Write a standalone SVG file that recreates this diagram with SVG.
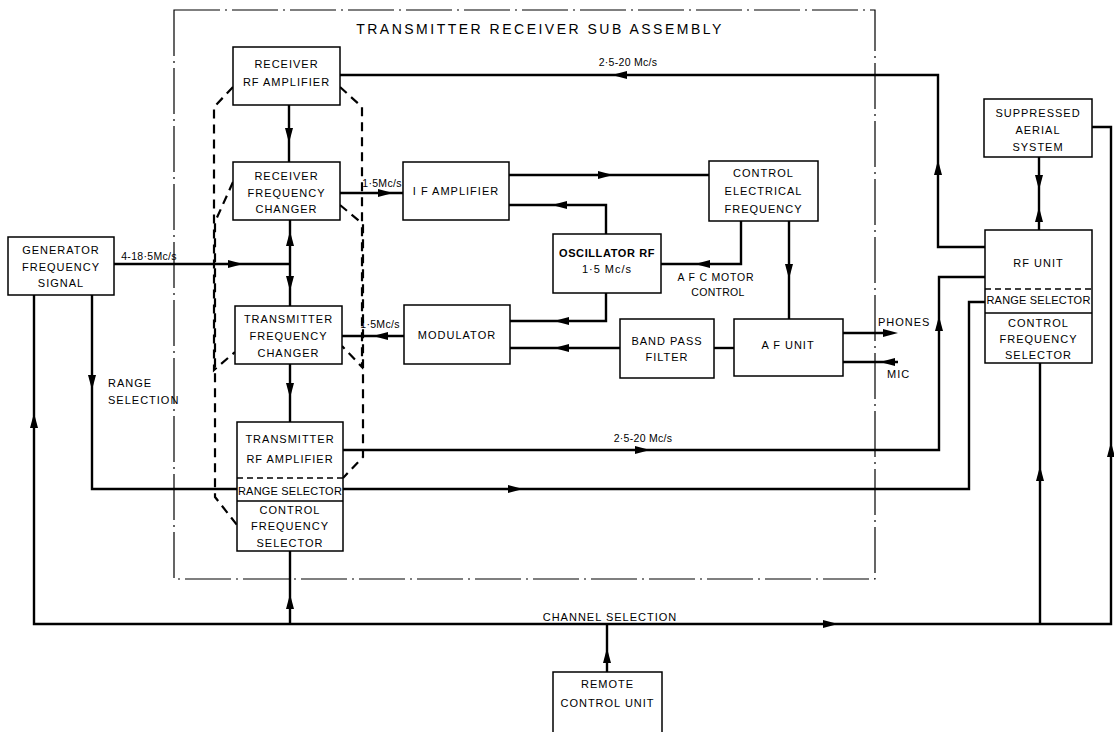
<svg xmlns="http://www.w3.org/2000/svg" xmlns:xlink="http://www.w3.org/1999/xlink" width="1114" height="732" viewBox="0 0 1114 732">
<style>
  .box { fill: #fff; stroke: #000; stroke-width: 1.5; }
  .div { stroke: #000; stroke-width: 1.5; fill: none; }
  .divd { stroke: #000; stroke-width: 1.3; fill: none; stroke-dasharray: 6 4; }
  .ln { stroke: #000; stroke-width: 2.4; fill: none; stroke-linejoin: miter; }
  .gang { stroke: #000; stroke-width: 2.2; fill: none; stroke-dasharray: 9 6; }
  .frame { stroke: #000; stroke-width: 1.2; fill: none; stroke-dasharray: 46 5 2 5; }
  text { font-family: "Liberation Sans", Arial, sans-serif; font-size: 11px; letter-spacing: 1px; fill: #000; }
  .c { text-anchor: middle; }
  .title { font-size: 14px; letter-spacing: 2.5px; }
  .sm { font-size: 10.5px; letter-spacing: 0.3px; }
  .b { font-weight: bold; letter-spacing: 0.6px; }
  .rs { letter-spacing: 0.2px; }
</style>
<defs>
  <path id="ah" d="M0 0 L-15 -4 L-15 4 Z" fill="#000"/>
</defs>
<rect width="1114" height="732" fill="#fff"/>

<g id="frame">
  <rect class="frame" x="174" y="10" width="701" height="569"/>
  <text class="title c" x="540" y="34">TRANSMITTER RECEIVER SUB ASSEMBLY</text>
</g>

<g id="ganging">
  <polyline class="gang" points="233,87 214,107 214,370 235,352"/>
  <polyline class="gang" points="340,87 362,107 362,367 342,346"/>
  <polyline class="gang" points="233,182 215,222 215,497 237,525"/>
  <polyline class="gang" points="340,205 363,224 363,457 343,478"/>
</g>

<g id="connectors">
  <polyline class="ln" points="985,247 938,247 938,75 340,75"/>
  <use href="#ah" transform="translate(938,160) rotate(-90)"/>
  <use href="#ah" transform="translate(612,75) rotate(180)"/>

  <polyline class="ln" points="342,450 939,450 939,277 985,277"/>
  <use href="#ah" transform="translate(650,450)"/>
  <use href="#ah" transform="translate(939,316) rotate(-90)"/>

  <polyline class="ln" points="92,295 92,489 237,489"/>
  <use href="#ah" transform="translate(92,390) rotate(90)"/>
  <polyline class="ln" points="343,489 969,489 969,302 985,302"/>
  <use href="#ah" transform="translate(523,489)"/>

  <polyline class="ln" points="34,295 34,624 1111,624 1111,127 1092,127"/>
  <use href="#ah" transform="translate(34,413) rotate(-90)"/>
  <use href="#ah" transform="translate(838,624)"/>
  <use href="#ah" transform="translate(1111,442) rotate(-90)"/>

  <line class="ln" x1="290" y1="551" x2="290" y2="624"/>
  <use href="#ah" transform="translate(290,594) rotate(-90)"/>
  <line class="ln" x1="607" y1="672" x2="607" y2="624"/>
  <use href="#ah" transform="translate(607,648) rotate(-90)"/>
  <line class="ln" x1="1040" y1="363" x2="1040" y2="624"/>
  <use href="#ah" transform="translate(1040,466) rotate(-90)"/>

  <line class="ln" x1="289" y1="105" x2="289" y2="162"/>
  <use href="#ah" transform="translate(289,143) rotate(90)"/>
  <line class="ln" x1="114" y1="264" x2="290" y2="264"/>
  <use href="#ah" transform="translate(243,264)"/>
  <line class="ln" x1="290" y1="220" x2="290" y2="306"/>
  <use href="#ah" transform="translate(290,231) rotate(-90)"/>
  <use href="#ah" transform="translate(290,291) rotate(90)"/>
  <line class="ln" x1="290" y1="364" x2="290" y2="422"/>
  <use href="#ah" transform="translate(290,398) rotate(90)"/>

  <line class="ln" x1="340" y1="193" x2="403" y2="193"/>
  <use href="#ah" transform="translate(393,193)"/>
  <line class="ln" x1="509" y1="175" x2="709" y2="175"/>
  <use href="#ah" transform="translate(613,175)"/>
  <polyline class="ln" points="606,234 606,205 509,205"/>
  <use href="#ah" transform="translate(552,205) rotate(180)"/>
  <polyline class="ln" points="741,221 741,264 661,264"/>
  <use href="#ah" transform="translate(695,264) rotate(180)"/>
  <line class="ln" x1="789" y1="221" x2="789" y2="319"/>
  <use href="#ah" transform="translate(789,279) rotate(90)"/>
  <polyline class="ln" points="606,293 606,321 510,321"/>
  <use href="#ah" transform="translate(554,321) rotate(180)"/>
  <line class="ln" x1="620" y1="348" x2="510" y2="348"/>
  <use href="#ah" transform="translate(554,348) rotate(180)"/>
  <line class="ln" x1="714" y1="348" x2="734" y2="348"/>
  <line class="ln" x1="843" y1="333" x2="885" y2="333"/>
  <use href="#ah" transform="translate(898,333)"/>
  <line class="ln" x1="843" y1="362" x2="898" y2="362"/>
  <use href="#ah" transform="translate(880,362) rotate(180)"/>
  <line class="ln" x1="404" y1="336" x2="342" y2="336"/>
  <use href="#ah" transform="translate(373,336) rotate(180)"/>
  <line class="ln" x1="1039" y1="157" x2="1039" y2="230"/>
  <use href="#ah" transform="translate(1039,190) rotate(90)"/>
  <use href="#ah" transform="translate(1039,207) rotate(-90)"/>

  <text class="sm c" x="628" y="66">2·5-20 Mc/s</text>
  <text class="sm c" x="643" y="442">2·5-20 Mc/s</text>
  <text class="sm c" x="382" y="187">1·5Mc/s</text>
  <text class="sm c" x="380" y="328">1·5Mc/s</text>
  <text class="sm c" x="149" y="260">4-18·5Mc/s</text>
  <text x="108" y="387">RANGE</text>
  <text x="108" y="404">SELECTION</text>
  <text class="sm c" x="716" y="281" style="letter-spacing:0.8px">A F C MOTOR</text>
  <text class="sm c" x="718" y="296">CONTROL</text>
  <text x="878" y="326">PHONES</text>
  <text x="887" y="378">MIC</text>
  <text class="c" x="610" y="621">CHANNEL SELECTION</text>
</g>

<g id="receiver-rf-amplifier">
  <rect class="box" x="233" y="47" width="107" height="58"/>
  <text class="c" x="286.5" y="68">RECEIVER</text>
  <text class="c" x="286.5" y="86">RF AMPLIFIER</text>
</g>
<g id="receiver-frequency-changer">
  <rect class="box" x="233" y="162" width="107" height="58"/>
  <text class="c" x="286.5" y="180">RECEIVER</text>
  <text class="c" x="286.5" y="197">FREQUENCY</text>
  <text class="c" x="286.5" y="213">CHANGER</text>
</g>
<g id="transmitter-frequency-changer">
  <rect class="box" x="235" y="306" width="107" height="58"/>
  <text class="c" x="288.5" y="323">TRANSMITTER</text>
  <text class="c" x="288.5" y="340">FREQUENCY</text>
  <text class="c" x="288.5" y="357">CHANGER</text>
</g>
<g id="transmitter-rf-amplifier">
  <rect class="box" x="237" y="422" width="106" height="129"/>
  <line class="divd" x1="237" y1="478" x2="343" y2="478"/>
  <line class="div" x1="237" y1="501" x2="343" y2="501"/>
  <text class="c" x="290" y="443">TRANSMITTER</text>
  <text class="c" x="290" y="463">RF AMPLIFIER</text>
  <text class="c rs" x="290" y="495">RANGE SELECTOR</text>
  <text class="c" x="290" y="514">CONTROL</text>
  <text class="c" x="290" y="530">FREQUENCY</text>
  <text class="c" x="290" y="547">SELECTOR</text>
</g>
<g id="if-amplifier">
  <rect class="box" x="403" y="162" width="106" height="58"/>
  <text class="c" x="456" y="195">I F AMPLIFIER</text>
</g>
<g id="control-electrical-frequency">
  <rect class="box" x="709" y="161" width="109" height="60"/>
  <text class="c" x="763.5" y="177">CONTROL</text>
  <text class="c" x="763.5" y="195">ELECTRICAL</text>
  <text class="c" x="763.5" y="213">FREQUENCY</text>
</g>
<g id="oscillator-rf">
  <rect class="box" x="553" y="234" width="108" height="59"/>
  <text class="c b" x="607" y="257">OSCILLATOR RF</text>
  <text class="c" x="607" y="273">1·5 Mc/s</text>
</g>
<g id="modulator">
  <rect class="box" x="404" y="305" width="106" height="59"/>
  <text class="c" x="457" y="339">MODULATOR</text>
</g>
<g id="band-pass-filter">
  <rect class="box" x="620" y="319" width="94" height="59"/>
  <text class="c" x="667" y="345">BAND PASS</text>
  <text class="c" x="667" y="361">FILTER</text>
</g>
<g id="af-unit">
  <rect class="box" x="734" y="319" width="109" height="57"/>
  <text class="c" x="788" y="349">A F UNIT</text>
</g>
<g id="rf-unit">
  <rect class="box" x="985" y="230" width="107" height="133"/>
  <line class="divd" x1="985" y1="289" x2="1092" y2="289"/>
  <line class="div" x1="985" y1="313" x2="1092" y2="313"/>
  <text class="c" x="1038.5" y="267">RF UNIT</text>
  <text class="c rs" x="1038.5" y="304">RANGE SELECTOR</text>
  <text class="c" x="1038.5" y="327">CONTROL</text>
  <text class="c" x="1038.5" y="343">FREQUENCY</text>
  <text class="c" x="1038.5" y="359">SELECTOR</text>
</g>
<g id="suppressed-aerial-system">
  <rect class="box" x="984" y="99" width="108" height="58"/>
  <text class="c" x="1038" y="117">SUPPRESSED</text>
  <text class="c" x="1038" y="134">AERIAL</text>
  <text class="c" x="1038" y="151">SYSTEM</text>
</g>
<g id="generator-frequency-signal">
  <rect class="box" x="8" y="237" width="106" height="58"/>
  <text class="c" x="61" y="254">GENERATOR</text>
  <text class="c" x="61" y="271">FREQUENCY</text>
  <text class="c" x="61" y="287">SIGNAL</text>
</g>
<g id="remote-control-unit">
  <rect class="box" x="553" y="672" width="109" height="70"/>
  <text class="c" x="607.5" y="688">REMOTE</text>
  <text class="c" x="607.5" y="707">CONTROL  UNIT</text>
</g>
</svg>
